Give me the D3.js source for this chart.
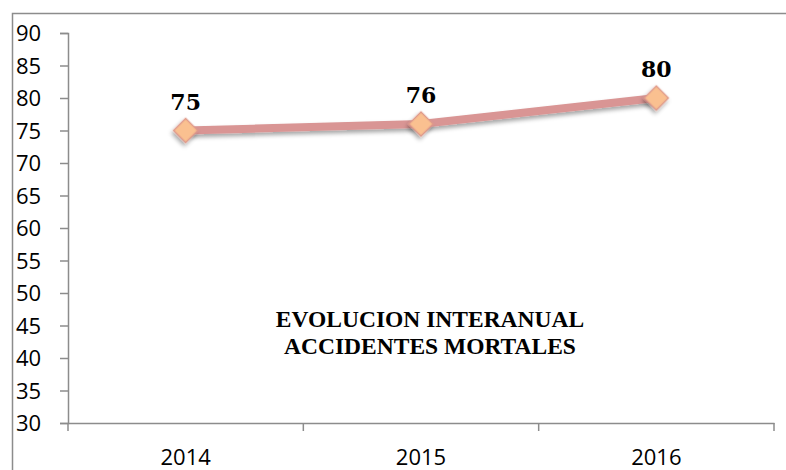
<!DOCTYPE html>
<html><head><meta charset="utf-8">
<script src="https://cdn.jsdelivr.net/npm/d3@7"></script>
<style>body{margin:0;background:#fff}svg{display:block}</style>
</head><body>
<script>
const years = ["2014", "2015", "2016"];
const values = [75, 76, 80];
const yTicks = [30, 35, 40, 45, 50, 55, 60, 65, 70, 75, 80, 85, 90];
const titleLines = ["EVOLUCION INTERANUAL", "ACCIDENTES MORTALES"];

const W = 786, H = 470;
const svg = d3.select("body").append("svg").attr("width", W).attr("height", H);
const defs = svg.append("defs");
const f = defs.append("filter").attr("id", "sh").attr("x", "-50%").attr("y", "-50%").attr("width", "200%").attr("height", "200%");
f.append("feDropShadow").attr("dx", 1).attr("dy", 3).attr("stdDeviation", 2).attr("flood-color", "#000").attr("flood-opacity", 0.35);

// outer border
svg.append("rect").attr("x", 12.5).attr("y", 13.5).attr("width", W).attr("height", H)
  .attr("fill", "none").attr("stroke", "#8c8c8c").attr("stroke-width", 1.5);

const x = d3.scaleBand().domain(years).range([68, 774]);
const y = d3.scaleLinear().domain([30, 90]).range([423, 33]);

const axisCol = "#8c8c8c";
const sansFont = "'Open Sans', 'Liberation Sans', sans-serif";
// y axis
const ya = svg.append("g").attr("transform", "translate(68,0)")
  .call(d3.axisLeft(y).tickValues(yTicks).tickSize(8).tickPadding(16));
ya.select(".domain").attr("stroke", axisCol).attr("stroke-width", 1.5);
ya.selectAll(".tick line").attr("stroke", axisCol).attr("stroke-width", 1.5);
ya.selectAll(".tick text").attr("font-family", sansFont)
  .attr("font-size", 22).attr("fill", "#000").attr("text-anchor", "start").attr("x", -52).attr("dy", "0.36em");

// x axis
const xa = svg.append("g").attr("transform", "translate(0,423)")
  .call(d3.axisBottom(x).tickSize(0).tickPadding(26));
xa.select(".domain").attr("stroke", axisCol).attr("stroke-width", 1.5);
xa.selectAll(".tick text").attr("font-family", sansFont)
  .attr("font-size", 22).attr("fill", "#000");
// boundary ticks
const bounds = years.map(d => x(d)).concat([x(years[years.length - 1]) + x.bandwidth()]);
svg.append("g").selectAll("line").data(bounds).join("line")
  .attr("x1", d => d).attr("x2", d => d).attr("y1", 423).attr("y2", 431)
  .attr("stroke", axisCol).attr("stroke-width", 1.5);

const cx = d => x(d) + x.bandwidth() / 2;
const pts = years.map((d, i) => [cx(d), y(values[i])]);

svg.append("path").attr("d", d3.line()(pts)).attr("fill", "none")
  .attr("stroke", "#d99594").attr("stroke-width", 8).attr("filter", "url(#sh)");

svg.append("g").selectAll("path").data(pts).join("path")
  .attr("transform", d => `translate(${d[0]},${d[1]}) rotate(45)`)
  .attr("d", "M-8.5,-8.5H8.5V8.5H-8.5Z")
  .attr("fill", "#fac090").attr("stroke", "#e09a8a").attr("stroke-width", 1.5).attr("filter", "url(#sh)");

svg.append("g").selectAll("text").data(pts).join("text")
  .attr("x", d => d[0]).attr("y", d => d[1] - 21)
  .attr("text-anchor", "middle")
  .attr("font-family", "'DejaVu Serif', 'Liberation Serif', serif").attr("font-weight", "bold")
  .attr("font-size", 22).attr("fill", "#000")
  .text((d, i) => values[i]);

svg.append("g").selectAll("text").data(titleLines).join("text")
  .attr("x", 430).attr("y", (d, i) => 327 + i * 27)
  .attr("text-anchor", "middle")
  .attr("font-family", "'Liberation Serif', 'DejaVu Serif', serif").attr("font-weight", "bold")
  .attr("font-size", 23.5).attr("fill", "#000")
  .text(d => d);
</script>
</body></html>
